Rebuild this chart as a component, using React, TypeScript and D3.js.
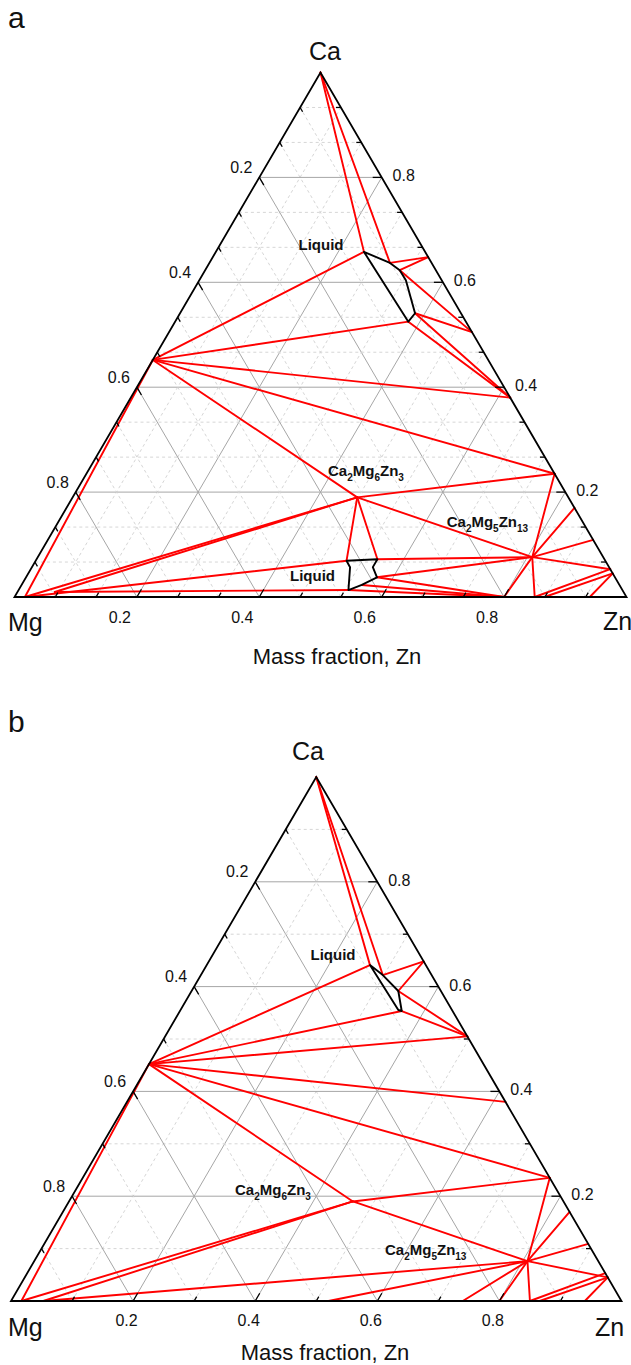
import * as d3 from "d3";

const WIDTH = 631;
const HEIGHT = 1365;
const FONT = "'Liberation Sans', Arial, Helvetica, sans-serif";

// phases: [name, mass fraction Zn, mass fraction Ca]
const compounds: [string, number, number][] = [
  ["Ca", 0, 1],
  ["Mg2Ca", 0, 0.452],
  ["Ca3Zn", 0.352, 0.648],
  ["Ca5Zn3", 0.495, 0.505],
  ["CaZn", 0.62, 0.38],
  ["CaZn2", 0.765, 0.235],
  ["CaZn3", 0.83, 0.17],
  ["CaZn5", 0.891, 0.109],
  ["CaZn11", 0.947, 0.053],
  ["CaZn13", 0.955, 0.045],
  ["Ca2Mg6Zn3", 0.465, 0.19],
  ["Ca2Mg5Zn13", 0.808, 0.076],
  ["Mg", 0.017, 0],
  ["Mg7Zn3", 0.52, 0],
  ["MgZn", 0.74, 0],
  ["Mg2Zn3", 0.8, 0],
  ["MgZn2", 0.85, 0],
  ["MgZn2b", 0.866, 0],
  ["Mg2Zn11", 0.94, 0],
];

// extra points only in panel a / b
const extraA: [string, number, number][] = [["P", 0.061, 0.0095]];
const extraB: [string, number, number][] = [["P", 0.053, 0]];

// liquid corners, panel a (upper and lower), panel b
const liquidA1: [string, number, number][] = [
  ["L1", 0.242, 0.658],
  ["L2", 0.295, 0.637],
  ["L3", 0.318, 0.623],
  ["L4", 0.3375, 0.604],
  ["L5", 0.384, 0.541],
  ["L6", 0.381, 0.525],
];
const liquidA2: [string, number, number][] = [
  ["LL1", 0.508, 0.069],
  ["LL2", 0.557, 0.072],
  ["LL3", 0.557, 0.057],
  ["LL4", 0.5735, 0.0376],
  ["LL5", 0.556, 0.023],
  ["LL6", 0.539, 0.0133],
  ["LL7", 0.52, 0.0566],
];
const liquidB: [string, number, number][] = [
  ["B1", 0.2675, 0.641],
  ["B2", 0.298, 0.622],
  ["B3", 0.3386, 0.5916],
  ["B4", 0.3633, 0.5534],
  ["B5", 0.3568, 0.5553],
];

// tie lines (from, to)
const tiesA: [string, string][] = [
  ["Ca", "L1"], ["Ca", "L2"], ["L2", "Ca3Zn"], ["Ca3Zn", "L3"],
  ["L3", "Ca5Zn3"], ["L5", "Ca5Zn3"], ["L5", "CaZn"], ["L6", "CaZn"],
  ["L1", "Mg2Ca"], ["L6", "Mg2Ca"], ["Mg2Ca", "CaZn"], ["Mg2Ca", "CaZn2"],
  ["Mg2Ca", "Ca2Mg6Zn3"], ["Mg2Ca", "Mg"], ["Mg", "Ca2Mg6Zn3"], ["P", "Ca2Mg6Zn3"],
  ["Ca2Mg6Zn3", "CaZn2"], ["Ca2Mg6Zn3", "Ca2Mg5Zn13"], ["Ca2Mg6Zn3", "LL1"], ["Ca2Mg6Zn3", "LL2"],
  ["Mg", "LL1"], ["P", "LL6"], ["LL2", "Ca2Mg5Zn13"], ["LL4", "Ca2Mg5Zn13"],
  ["LL6", "Mg2Zn3"], ["LL5", "Mg2Zn3"], ["LL4", "Mg2Zn3"],
  ["Ca2Mg5Zn13", "Mg2Zn3"], ["Ca2Mg5Zn13", "MgZn2"], ["Ca2Mg5Zn13", "CaZn2"],
  ["Ca2Mg5Zn13", "CaZn3"], ["Ca2Mg5Zn13", "CaZn5"], ["Ca2Mg5Zn13", "CaZn11"],
  ["CaZn11", "MgZn2"], ["CaZn13", "MgZn2b"], ["CaZn13", "Mg2Zn11"],
];
const tiesB: [string, string][] = [
  ["Ca", "B1"], ["Ca", "B2"], ["B2", "Ca3Zn"], ["Ca3Zn", "B3"],
  ["B3", "Ca5Zn3"], ["B4", "Ca5Zn3"], ["B1", "Mg2Ca"], ["B4", "Mg2Ca"],
  ["Ca5Zn3", "Mg2Ca"], ["Mg2Ca", "CaZn"], ["Mg2Ca", "CaZn2"], ["Mg2Ca", "Ca2Mg6Zn3"],
  ["Mg2Ca", "Mg"], ["Mg", "Ca2Mg6Zn3"], ["P", "Ca2Mg6Zn3"],
  ["Ca2Mg6Zn3", "CaZn2"], ["Ca2Mg6Zn3", "Ca2Mg5Zn13"], ["P", "Ca2Mg5Zn13"],
  ["Mg7Zn3", "Ca2Mg5Zn13"], ["MgZn", "Ca2Mg5Zn13"], ["Mg2Zn3", "Ca2Mg5Zn13"], ["MgZn2", "Ca2Mg5Zn13"],
  ["Ca2Mg5Zn13", "CaZn2"], ["Ca2Mg5Zn13", "CaZn3"], ["Ca2Mg5Zn13", "CaZn5"], ["Ca2Mg5Zn13", "CaZn13"],
  ["CaZn11", "MgZn2"], ["CaZn13", "MgZn2b"], ["CaZn13", "Mg2Zn11"],
];

// phase labels: [text, Zn, Ca, anchor]
const labelsA: [string, number, number, string][] = [
  ["Liquid", 0.17, 0.6616, "middle"],
  ["Liquid", 0.4714, 0.0311, "middle"],
  ["Ca2Mg6Zn3", 0.3969, 0.2307, "start"],
  ["Ca2Mg5Zn13", 0.6392, 0.134, "start"],
];
const labelsB: [string, number, number, string][] = [
  ["Liquid", 0.2021, 0.6508, "middle"],
  ["Ca2Mg6Zn3", 0.2658, 0.2023, "start"],
  ["Ca2Mg5Zn13", 0.5687, 0.0878, "start"],
];

const majorTicks = [0.2, 0.4, 0.6, 0.8];

const layoutA = {
  left: 14.5, bottom: 597, w: 612, h: 524.5, minorPerMajor: 3,
  bottomDx: -17, bottomDy: 20, letter: "a", letterY: 28,
  caX: 325, caY: 60, mgY: 631, znX: 603, znY: 630, titleX: 337, titleY: 664,
};
const layoutB = {
  left: 11, bottom: 1301, w: 610.5, h: 524, minorPerMajor: 2,
  bottomDx: -6.5, bottomDy: 19, letter: "b", letterY: 732,
  caX: 308, caY: 760, mgY: 1336, znX: 595, znY: 1336, titleX: 325, titleY: 1360,
};

const PhaseLabel = ({ text, x, y, anchor }) => {
  const parts = text.match(/[A-Za-z]+|\d+/g) || [];
  let sub = false;
  return (
    <text x={x} y={y} textAnchor={anchor} fontFamily={FONT} fontWeight="bold" fontSize={15} fill="#111">
      {parts.map((p, i) => {
        const isNum = /\d/.test(p);
        const dy = isNum && !sub ? 5 : !isNum && sub ? -5 : 0;
        sub = isNum;
        return (
          <tspan key={i} dy={dy} fontSize={isNum ? 10 : 15}>
            {p}
          </tspan>
        );
      })}
    </text>
  );
};

const Ternary = ({ layout, extra, liquids, ties, labels }) => {
  const x = d3.scaleLinear().domain([0, 1]).range([layout.left, layout.left + layout.w]);
  const y = d3.scaleLinear().domain([0, 1]).range([layout.bottom, layout.bottom - layout.h]);
  const pt = (zn: number, ca: number): [number, number] => [x(zn + ca / 2), y(ca)];

  const nodes = new Map<string, [number, number]>();
  [...compounds, ...extra, ...liquids.flat()].forEach(([name, zn, ca]) => nodes.set(name, pt(zn, ca)));

  const line = d3.line();
  const n = layout.minorPerMajor;
  const steps = d3.range(1, 5 * n).map((k) => ({ v: (k * 0.2) / n, major: k % n === 0 }));

  // tick directions
  const len = Math.hypot(layout.w / 2, layout.h);
  const dl = [layout.w / 2 / len, layout.h / len];
  const db = [layout.w / 2 / len, -layout.h / len];

  const grid = [];
  steps.forEach(({ v, major }, i) => {
    const style = major
      ? { stroke: "#a6a6a6", strokeWidth: 1 }
      : { stroke: "#d6d6d6", strokeWidth: 1, strokeDasharray: "3,3" };
    grid.push(<path key={"h" + i} d={line([pt(0, v), pt(1 - v, v)])} {...style} />);
    grid.push(<path key={"z" + i} d={line([pt(v, 0), pt(v, 1 - v)])} {...style} />);
    grid.push(<path key={"m" + i} d={line([pt(1 - v, 0), pt(0, 1 - v)])} {...style} />);
  });

  const ticks = [];
  steps.forEach(({ v, major }, i) => {
    const l = major ? 9 : 5;
    const [rx, ry] = pt(1 - v, v);
    ticks.push(<path key={"r" + i} d={line([[rx, ry], [rx - l, ry]])} />);
    const [lx, ly] = pt(0, v);
    ticks.push(<path key={"l" + i} d={line([[lx, ly], [lx + dl[0] * l, ly + dl[1] * l]])} />);
    const [bx, by] = pt(v, 0);
    ticks.push(<path key={"b" + i} d={line([[bx, by], [bx + db[0] * l, by + db[1] * l]])} />);
  });

  const tickLabels = [];
  majorTicks.forEach((v, i) => {
    const t = d3.format(".1f")(v);
    const [lx, ly] = pt(0, 1 - v);
    tickLabels.push(<text key={"lt" + i} x={lx - 18} y={ly - 10}>{t}</text>);
    const [rx, ry] = pt(1 - v, v);
    tickLabels.push(<text key={"rt" + i} x={rx + 22} y={ry - 1.5}>{t}</text>);
    const [bx, by] = pt(v, 0);
    tickLabels.push(<text key={"bt" + i} x={bx + layout.bottomDx} y={by + layout.bottomDy}>{t}</text>);
  });

  const frame = line([pt(0, 0), pt(1, 0), pt(0, 1)]) + "Z";

  return (
    <g>
      <g fill="none">{grid}</g>
      <g stroke="#ff0000" strokeWidth={1.9} fill="none" strokeLinecap="round">
        {ties.map(([a, b], i) => (
          <path key={i} d={line([nodes.get(a), nodes.get(b)])} />
        ))}
      </g>
      <g stroke="#000" strokeWidth={1.9} fill="none" strokeLinejoin="round">
        {liquids.map((poly, i) => (
          <path key={i} d={line(poly.map(([, zn, ca]) => pt(zn, ca))) + "Z"} />
        ))}
      </g>
      <g stroke="#000" strokeWidth={1.3}>{ticks}</g>
      <path d={frame} fill="none" stroke="#000" strokeWidth={1.8} strokeLinejoin="miter" />
      <g fontFamily={FONT} fontSize={16} fill="#111" textAnchor="middle" dominantBaseline="central">
        {tickLabels}
      </g>
      {labels.map(([text, zn, ca, anchor], i) => {
        const [lx, ly] = pt(zn, ca);
        return <PhaseLabel key={i} text={text} x={lx} y={ly} anchor={anchor} />;
      })}
      <g fontFamily={FONT} fill="#111">
        <text x={8} y={layout.letterY} fontSize={30}>{layout.letter}</text>
        <text x={layout.caX} y={layout.caY} fontSize={25} textAnchor="middle">Ca</text>
        <text x={8} y={layout.mgY} fontSize={25}>Mg</text>
        <text x={layout.znX} y={layout.znY} fontSize={25}>Zn</text>
        <text x={layout.titleX} y={layout.titleY} fontSize={22} textAnchor="middle">Mass fraction, Zn</text>
      </g>
    </g>
  );
};

export default function App() {
  return (
    <div style={{ position: "absolute", left: 0, top: 0 }}>
      <svg width={WIDTH} height={HEIGHT} style={{ display: "block", background: "#fff" }}>
        <Ternary layout={layoutA} extra={extraA} liquids={[liquidA1, liquidA2]} ties={tiesA} labels={labelsA} />
        <Ternary layout={layoutB} extra={extraB} liquids={[liquidB]} ties={tiesB} labels={labelsB} />
      </svg>
    </div>
  );
}
